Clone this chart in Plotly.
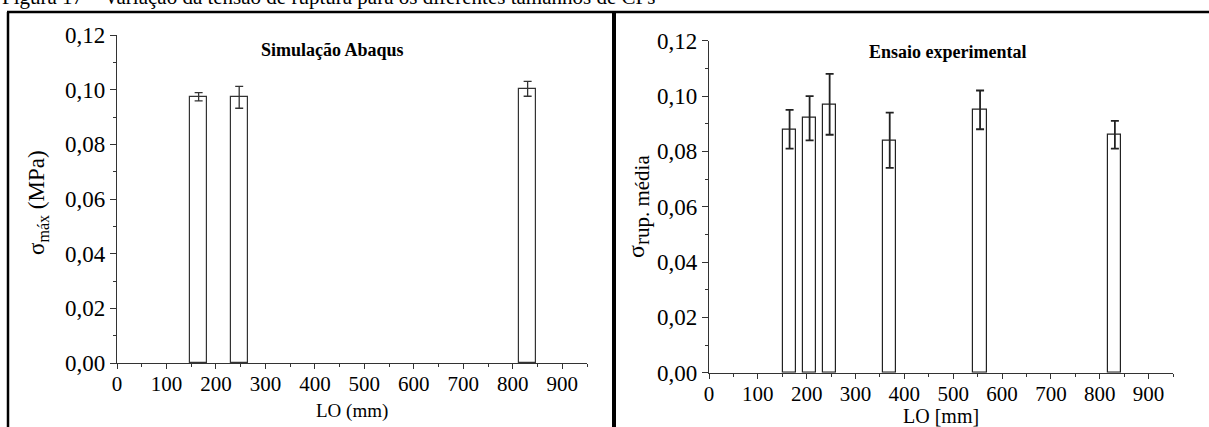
import plotly.graph_objects as go

# ---------------- data ----------------
left_lo = [165, 247, 830]
left_sigma = [0.0974, 0.0972, 0.1003]
left_err = [0.0015, 0.0040, 0.0027]

right_lo = [165, 206, 247, 370, 555, 831]
right_sigma = [0.088, 0.092, 0.097, 0.084, 0.095, 0.086]
right_err = [0.007, 0.008, 0.011, 0.010, 0.007, 0.005]

x_ticks = [0, 100, 200, 300, 400, 500, 600, 700, 800, 900]
y_ticks = [0.00, 0.02, 0.04, 0.06, 0.08, 0.10, 0.12]
y_ticklabels = ["0,00", "0,02", "0,04", "0,06", "0,08", "0,10", "0,12"]

caption = "Figura 17 – Variação da tensão de ruptura para os diferentes tamanhos de CPs"
left_title = "Simulação Abaqus"
right_title = "Ensaio experimental"

W, H = 1209, 427
FONT = "Liberation Serif, Times New Roman, serif"
AX = "#333333"


def px(xp):
    return xp / W


def py(yp):
    return 1 - yp / H


fig = go.Figure()

fig.add_trace(go.Bar(
    x=left_lo, y=left_sigma, width=34,
    marker=dict(color="white", line=dict(color="#333333", width=1.2)),
    error_y=dict(type="data", array=left_err, color="#333333", thickness=1.3, width=4),
    xaxis="x", yaxis="y", showlegend=False,
))
fig.add_trace(go.Bar(
    x=right_lo, y=right_sigma, width=27,
    marker=dict(color="white", line=dict(color="#222222", width=1.2)),
    error_y=dict(type="data", array=right_err, color="#222222", thickness=1.8, width=4),
    xaxis="x2", yaxis="y2", showlegend=False,
))

common_x = dict(
    range=[0, 950], tickvals=x_ticks, ticks="outside", ticklen=5, tickwidth=1,
    tickcolor=AX, showline=True, linecolor=AX, linewidth=1.2, showgrid=False,
    zeroline=False, tickfont=dict(family=FONT, size=21, color="black"),
    ticklabelstandoff=-3,
    minor=dict(dtick=50, tick0=0, ticks="outside", ticklen=3, tickcolor=AX),
    fixedrange=True, automargin=False,
)
common_y = dict(
    range=[0, 0.12], tickvals=y_ticks, ticktext=y_ticklabels, ticks="outside",
    ticklen=6, tickwidth=1, tickcolor=AX, showline=True, linecolor=AX, linewidth=1.2,
    showgrid=False, zeroline=False, tickfont=dict(family=FONT, size=23, color="black"),
    minor=dict(dtick=0.01, tick0=0, ticks="outside", ticklen=3, tickcolor=AX),
    fixedrange=True, automargin=False,
)

fig.update_layout(
    width=W, height=H,
    margin=dict(l=0, r=0, t=0, b=0, pad=0),
    paper_bgcolor="white", plot_bgcolor="white",
    bargap=0,
    xaxis=dict(common_x, domain=[px(117), px(587)], anchor="y"),
    yaxis=dict(common_y, domain=[py(363), py(35)], anchor="x"),
    xaxis2=dict(common_x, domain=[px(709), px(1173)], anchor="y2"),
    yaxis2=dict(common_y, domain=[py(372.7), py(40.7)], anchor="x2"),
    font=dict(family=FONT, color="black"),
)


def note(text, x, y, size, angle=0, xanchor="center", yanchor="middle"):
    return dict(text=text, x=x, y=y, xref="paper", yref="paper", showarrow=False,
                xanchor=xanchor, yanchor=yanchor, textangle=angle,
                font=dict(family=FONT, size=size, color="black"))


ann = [
    # caption, cut by the top edge of the page as in the reference
    note(caption, 0, py(11), 21, xanchor="left", yanchor="bottom"),
    # panel titles
    note("<b>" + left_title + "</b>", px(332), py(50), 18),
    note("<b>" + right_title + "</b>", px(948), py(52), 18),
    # axis titles
    note("σ<sub>máx</sub> (MPa)", px(38), py(203), 23, angle=-90),
    note("σ<sub><span style='font-size:21px'>rup. média</span></sub>", px(638), py(207), 24, angle=-90),
    note("LO (mm)", px(352), py(411), 19),
    note("LO [mm]", px(941), py(416), 20),
]
fig.update_layout(annotations=ann)

# frame lines
shapes = [
    dict(type="line", xref="paper", yref="paper", x0=px(8), x1=px(8), y0=py(12), y1=py(427),
         line=dict(color="black", width=2.5)),
    dict(type="line", xref="paper", yref="paper", x0=px(7), x1=1, y0=py(12), y1=py(12),
         line=dict(color="black", width=2.5)),
    dict(type="line", xref="paper", yref="paper", x0=px(614), x1=px(614), y0=py(11), y1=py(427),
         line=dict(color="black", width=4)),
]
fig.update_layout(shapes=shapes)

fig.write_html("out.html", config={"displayModeBar": False},
               post_script="document.body.style.margin='0px';")
